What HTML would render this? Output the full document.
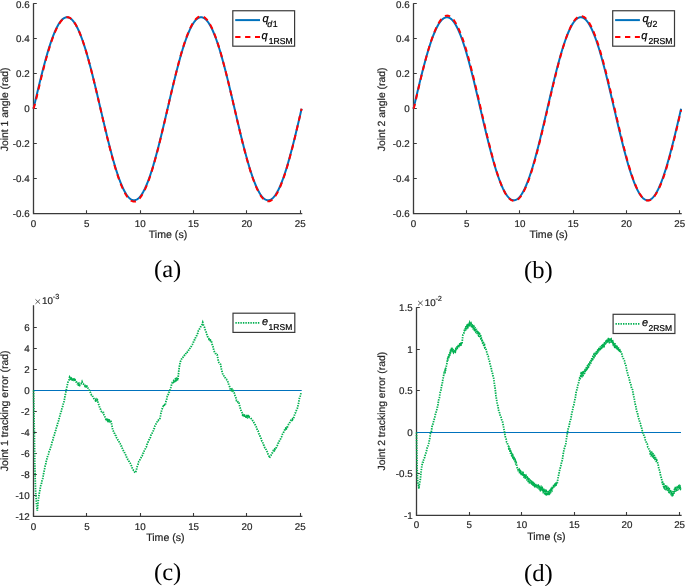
<!DOCTYPE html>
<html><head><meta charset="utf-8"><style>
html,body{margin:0;padding:0;background:#fff;overflow:hidden;}
body{width:685px;height:586px;font-family:"Liberation Sans",sans-serif;}
svg{display:block;text-rendering:geometricPrecision;will-change:transform;}
</style></head><body>
<svg width="685" height="586" viewBox="0 0 685 586" font-family="Liberation Sans, sans-serif" fill="#262626"><style>text{stroke:#262626;stroke-width:0.2px;}</style>
<rect width="685" height="586" fill="#fff"/>
<path d="M33.5 3.9V213.6H301.62" fill="none" stroke="#3a3a3a" stroke-width="1.3" stroke-linecap="square"/>
<path d="M33.5 213.5h3.3M33.5 178.5h3.3M33.5 143.5h3.3M33.5 108.5h3.3M33.5 73.5h3.3M33.5 38.5h3.3M33.5 3.5h3.3M33.5 213.6v-3.3M86.5 213.6v-3.3M140.5 213.6v-3.3M193.5 213.6v-3.3M246.5 213.6v-3.3M300.5 213.6v-3.3" fill="none" stroke="#3a3a3a" stroke-width="1.1"/>
<text x="29.6" y="217.2" text-anchor="end" font-size="9.8">-0.6</text>
<text x="29.6" y="182.25" text-anchor="end" font-size="9.8">-0.4</text>
<text x="29.6" y="147.3" text-anchor="end" font-size="9.8">-0.2</text>
<text x="29.6" y="112.35" text-anchor="end" font-size="9.8">0</text>
<text x="29.6" y="77.4" text-anchor="end" font-size="9.8">0.2</text>
<text x="29.6" y="42.45" text-anchor="end" font-size="9.8">0.4</text>
<text x="29.6" y="7.5" text-anchor="end" font-size="9.8">0.6</text>
<text x="33.5" y="226.9" text-anchor="middle" font-size="9.8">0</text>
<text x="86.84" y="226.9" text-anchor="middle" font-size="9.8">5</text>
<text x="140.18" y="226.9" text-anchor="middle" font-size="9.8">10</text>
<text x="193.52" y="226.9" text-anchor="middle" font-size="9.8">15</text>
<text x="246.86" y="226.9" text-anchor="middle" font-size="9.8">20</text>
<text x="300.2" y="226.9" text-anchor="middle" font-size="9.8">25</text>
<text x="168" y="237.8" text-anchor="middle" font-size="10.6">Time (s)</text>
<text transform="translate(7.5 109.35) rotate(-90)" text-anchor="middle" font-size="10.4">Joint 1 angle (rad)</text>
<path d="M33.5 108.75 34.04 106.45 34.57 104.15 35.11 101.86 35.64 99.57 36.18 97.28 36.72 95 37.25 92.74 37.79 90.48 38.33 88.23 38.86 86 39.4 83.78 39.93 81.57 40.47 79.38 41.01 77.22 41.54 75.07 42.08 72.94 42.62 70.84 43.15 68.75 43.69 66.7 44.22 64.67 44.76 62.67 45.3 60.7 45.83 58.76 46.37 56.85 46.91 54.97 47.44 53.13 47.98 51.32 48.51 49.55 49.05 47.81 49.59 46.11 50.12 44.46 50.66 42.84 51.2 41.27 51.73 39.74 52.27 38.25 52.8 36.81 53.34 35.41 53.88 34.06 54.41 32.75 54.95 31.49 55.49 30.29 56.02 29.13 56.56 28.02 57.09 26.96 57.63 25.96 58.17 25.01 58.7 24.11 59.24 23.26 59.78 22.47 60.31 21.73 60.85 21.05 61.38 20.42 61.92 19.85 62.46 19.33 62.99 18.87 63.53 18.47 64.07 18.12 64.6 17.84 65.14 17.6 65.67 17.43 66.21 17.32 66.75 17.26 67.28 17.26 67.82 17.32 68.36 17.43 68.89 17.6 69.43 17.84 69.96 18.12 70.5 18.47 71.04 18.87 71.57 19.33 72.11 19.85 72.64 20.42 73.18 21.05 73.72 21.73 74.25 22.47 74.79 23.26 75.33 24.11 75.86 25.01 76.4 25.96 76.93 26.96 77.47 28.02 78.01 29.13 78.54 30.29 79.08 31.49 79.62 32.75 80.15 34.06 80.69 35.41 81.22 36.81 81.76 38.25 82.3 39.74 82.83 41.27 83.37 42.84 83.91 44.46 84.44 46.11 84.98 47.81 85.51 49.55 86.05 51.32 86.59 53.13 87.12 54.97 87.66 56.85 88.2 58.76 88.73 60.7 89.27 62.67 89.8 64.67 90.34 66.7 90.88 68.75 91.41 70.84 91.95 72.94 92.49 75.07 93.02 77.22 93.56 79.38 94.09 81.57 94.63 83.78 95.17 86 95.7 88.23 96.24 90.48 96.78 92.74 97.31 95 97.85 97.28 98.38 99.57 98.92 101.86 99.46 104.15 99.99 106.45 100.53 108.75 101.07 111.05 101.6 113.35 102.14 115.64 102.67 117.93 103.21 120.22 103.75 122.5 104.28 124.76 104.82 127.02 105.36 129.27 105.89 131.5 106.43 133.72 106.96 135.93 107.5 138.12 108.04 140.28 108.57 142.43 109.11 144.56 109.64 146.66 110.18 148.75 110.72 150.8 111.25 152.83 111.79 154.83 112.33 156.8 112.86 158.74 113.4 160.65 113.93 162.53 114.47 164.37 115.01 166.18 115.54 167.95 116.08 169.69 116.62 171.39 117.15 173.04 117.69 174.66 118.22 176.23 118.76 177.76 119.3 179.25 119.83 180.69 120.37 182.09 120.91 183.44 121.44 184.75 121.98 186.01 122.51 187.21 123.05 188.37 123.59 189.48 124.12 190.54 124.66 191.54 125.2 192.49 125.73 193.39 126.27 194.24 126.8 195.03 127.34 195.77 127.88 196.45 128.41 197.08 128.95 197.65 129.49 198.17 130.02 198.63 130.56 199.03 131.09 199.38 131.63 199.66 132.17 199.9 132.7 200.07 133.24 200.18 133.78 200.24 134.31 200.24 134.85 200.18 135.38 200.07 135.92 199.9 136.46 199.66 136.99 199.38 137.53 199.03 138.07 198.63 138.6 198.17 139.14 197.65 139.67 197.08 140.21 196.45 140.75 195.77 141.28 195.03 141.82 194.24 142.36 193.39 142.89 192.49 143.43 191.54 143.96 190.54 144.5 189.48 145.04 188.37 145.57 187.21 146.11 186.01 146.64 184.75 147.18 183.44 147.72 182.09 148.25 180.69 148.79 179.25 149.33 177.76 149.86 176.23 150.4 174.66 150.93 173.04 151.47 171.39 152.01 169.69 152.54 167.95 153.08 166.18 153.62 164.37 154.15 162.53 154.69 160.65 155.22 158.74 155.76 156.8 156.3 154.83 156.83 152.83 157.37 150.8 157.91 148.75 158.44 146.66 158.98 144.56 159.51 142.43 160.05 140.28 160.59 138.12 161.12 135.93 161.66 133.72 162.2 131.5 162.73 129.27 163.27 127.02 163.8 124.76 164.34 122.5 164.88 120.22 165.41 117.93 165.95 115.64 166.49 113.35 167.02 111.05 167.56 108.75 168.09 106.45 168.63 104.15 169.17 101.86 169.7 99.57 170.24 97.28 170.78 95 171.31 92.74 171.85 90.48 172.38 88.23 172.92 86 173.46 83.78 173.99 81.57 174.53 79.38 175.07 77.22 175.6 75.07 176.14 72.94 176.67 70.84 177.21 68.75 177.75 66.7 178.28 64.67 178.82 62.67 179.36 60.7 179.89 58.76 180.43 56.85 180.96 54.97 181.5 53.13 182.04 51.32 182.57 49.55 183.11 47.81 183.65 46.11 184.18 44.46 184.72 42.84 185.25 41.27 185.79 39.74 186.33 38.25 186.86 36.81 187.4 35.41 187.93 34.06 188.47 32.75 189.01 31.49 189.54 30.29 190.08 29.13 190.62 28.02 191.15 26.96 191.69 25.96 192.22 25.01 192.76 24.11 193.3 23.26 193.83 22.47 194.37 21.73 194.91 21.05 195.44 20.42 195.98 19.85 196.51 19.33 197.05 18.87 197.59 18.47 198.12 18.12 198.66 17.84 199.2 17.6 199.73 17.43 200.27 17.32 200.8 17.26 201.34 17.26 201.88 17.32 202.41 17.43 202.95 17.6 203.49 17.84 204.02 18.12 204.56 18.47 205.09 18.87 205.63 19.33 206.17 19.85 206.7 20.42 207.24 21.05 207.78 21.73 208.31 22.47 208.85 23.26 209.38 24.11 209.92 25.01 210.46 25.96 210.99 26.96 211.53 28.02 212.07 29.13 212.6 30.29 213.14 31.49 213.67 32.75 214.21 34.06 214.75 35.41 215.28 36.81 215.82 38.25 216.36 39.74 216.89 41.27 217.43 42.84 217.96 44.46 218.5 46.11 219.04 47.81 219.57 49.55 220.11 51.32 220.65 53.13 221.18 54.97 221.72 56.85 222.25 58.76 222.79 60.7 223.33 62.67 223.86 64.67 224.4 66.7 224.93 68.75 225.47 70.84 226.01 72.94 226.54 75.07 227.08 77.22 227.62 79.38 228.15 81.57 228.69 83.78 229.22 86 229.76 88.23 230.3 90.48 230.83 92.74 231.37 95 231.91 97.28 232.44 99.57 232.98 101.86 233.51 104.15 234.05 106.45 234.59 108.75 235.12 111.05 235.66 113.35 236.2 115.64 236.73 117.93 237.27 120.22 237.8 122.5 238.34 124.76 238.88 127.02 239.41 129.27 239.95 131.5 240.49 133.72 241.02 135.93 241.56 138.12 242.09 140.28 242.63 142.43 243.17 144.56 243.7 146.66 244.24 148.75 244.78 150.8 245.31 152.83 245.85 154.83 246.38 156.8 246.92 158.74 247.46 160.65 247.99 162.53 248.53 164.37 249.07 166.18 249.6 167.95 250.14 169.69 250.67 171.39 251.21 173.04 251.75 174.66 252.28 176.23 252.82 177.76 253.36 179.25 253.89 180.69 254.43 182.09 254.96 183.44 255.5 184.75 256.04 186.01 256.57 187.21 257.11 188.37 257.65 189.48 258.18 190.54 258.72 191.54 259.25 192.49 259.79 193.39 260.33 194.24 260.86 195.03 261.4 195.77 261.93 196.45 262.47 197.08 263.01 197.65 263.54 198.17 264.08 198.63 264.62 199.03 265.15 199.38 265.69 199.66 266.22 199.9 266.76 200.07 267.3 200.18 267.83 200.24 268.37 200.24 268.91 200.18 269.44 200.07 269.98 199.9 270.51 199.66 271.05 199.38 271.59 199.03 272.12 198.63 272.66 198.17 273.2 197.65 273.73 197.08 274.27 196.45 274.8 195.77 275.34 195.03 275.88 194.24 276.41 193.39 276.95 192.49 277.49 191.54 278.02 190.54 278.56 189.48 279.09 188.37 279.63 187.21 280.17 186.01 280.7 184.75 281.24 183.44 281.78 182.09 282.31 180.69 282.85 179.25 283.38 177.76 283.92 176.23 284.46 174.66 284.99 173.04 285.53 171.39 286.07 169.69 286.6 167.95 287.14 166.18 287.67 164.37 288.21 162.53 288.75 160.65 289.28 158.74 289.82 156.8 290.36 154.83 290.89 152.83 291.43 150.8 291.96 148.75 292.5 146.66 293.04 144.56 293.57 142.43 294.11 140.28 294.65 138.12 295.18 135.93 295.72 133.72 296.25 131.5 296.79 129.27 297.33 127.02 297.86 124.76 298.4 122.5 298.93 120.22 299.47 117.93 300.01 115.64 300.54 113.35 301.08 111.05 301.62 108.75" fill="none" stroke="#0072BD" stroke-width="2" stroke-linejoin="round"/>
<path d="M33.5 108.75 34.04 106.89 34.57 105.12 35.11 103.28 35.64 101.26 36.18 99.1 36.72 96.93 37.25 94.73 37.79 92.4 38.33 90.06 38.86 87.76 39.4 85.48 39.93 83.22 40.47 80.99 41.01 78.79 41.54 76.61 42.08 74.44 42.62 72.3 43.15 70.18 43.69 68.08 44.22 66.01 44.76 63.96 45.3 61.95 45.83 59.97 46.37 58.02 46.91 56.11 47.44 54.23 47.98 52.4 48.51 50.6 49.05 48.84 49.59 47.12 50.12 45.44 50.66 43.79 51.2 42.19 51.73 40.62 52.27 39.11 52.8 37.63 53.34 36.2 53.88 34.82 54.41 33.49 54.95 32.2 55.49 30.96 56.02 29.78 56.56 28.64 57.09 27.55 57.63 26.52 58.17 25.53 58.7 24.6 59.24 23.72 59.78 22.9 60.31 22.13 60.85 21.42 61.38 20.76 61.92 20.15 62.46 19.61 62.99 19.12 63.53 18.68 64.07 18.31 64.6 17.97 65.14 17.7 65.67 17.48 66.21 17.32 66.75 17.22 67.28 17.17 67.82 17.2 68.36 17.29 68.89 17.43 69.43 17.64 69.96 17.92 70.5 18.27 71.04 18.68 71.57 19.15 72.11 19.67 72.64 20.24 73.18 20.87 73.72 21.56 74.25 22.3 74.79 23.1 75.33 23.95 75.86 24.86 76.4 25.83 76.93 26.84 77.47 27.91 78.01 29.03 78.54 30.19 79.08 31.4 79.62 32.66 80.15 33.97 80.69 35.31 81.22 36.69 81.76 38.12 82.3 39.61 82.83 41.16 83.37 42.74 83.91 44.37 84.44 46.04 84.98 47.74 85.51 49.48 86.05 51.25 86.59 53.06 87.12 54.91 87.66 56.8 88.2 58.72 88.73 60.67 89.27 62.67 89.8 64.69 90.34 66.74 90.88 68.81 91.41 70.91 91.95 73.03 92.49 75.17 93.02 77.33 93.56 79.52 94.09 81.72 94.63 83.94 95.17 86.16 95.7 88.4 96.24 90.64 96.78 92.9 97.31 95.17 97.85 97.48 98.38 99.79 98.92 102.11 99.46 104.43 99.99 106.75 100.53 109.08 101.07 111.39 101.6 113.7 102.14 116 102.67 118.3 103.21 120.59 103.75 122.89 104.28 125.18 104.82 127.47 105.36 129.74 105.89 132 106.43 134.22 106.96 136.43 107.5 138.61 108.04 140.79 108.57 142.94 109.11 145.07 109.64 147.17 110.18 149.26 110.72 151.32 111.25 153.37 111.79 155.41 112.33 157.43 112.86 159.41 113.4 161.34 113.93 163.23 114.47 165.1 115.01 166.92 115.54 168.71 116.08 170.46 116.62 172.17 117.15 173.84 117.69 175.47 118.22 177.06 118.76 178.61 119.3 180.12 119.83 181.58 120.37 182.99 120.91 184.36 121.44 185.69 121.98 186.96 122.51 188.19 123.05 189.36 123.59 190.49 124.12 191.56 124.66 192.59 125.2 193.56 125.73 194.48 126.27 195.34 126.8 196.15 127.34 196.9 127.88 197.6 128.41 198.25 128.95 198.84 129.49 199.37 130.02 199.85 130.56 200.26 131.09 200.63 131.63 200.93 132.17 201.18 132.7 201.37 133.24 201.5 133.78 201.58 134.31 201.59 134.85 201.55 135.38 201.44 135.92 201.24 136.46 200.98 136.99 200.66 137.53 200.29 138.07 199.86 138.6 199.37 139.14 198.83 139.67 198.24 140.21 197.6 140.75 196.9 141.28 196.14 141.82 195.33 142.36 194.47 142.89 193.55 143.43 192.58 143.96 191.56 144.5 190.48 145.04 189.36 145.57 188.18 146.11 186.95 146.64 185.67 147.18 184.34 147.72 182.97 148.25 181.55 148.79 180.08 149.33 178.57 149.86 177.03 150.4 175.43 150.93 173.8 151.47 172.13 152.01 170.41 152.54 168.66 153.08 166.86 153.62 165.03 154.15 163.16 154.69 161.26 155.22 159.33 155.76 157.37 156.3 155.38 156.83 153.36 157.37 151.32 157.91 149.25 158.44 147.16 158.98 145.05 159.51 142.91 160.05 140.75 160.59 138.53 161.12 136.29 161.66 134.06 162.2 131.81 162.73 129.55 163.27 127.3 163.8 125.03 164.34 122.76 164.88 120.47 165.41 118.16 165.95 115.84 166.49 113.5 167.02 111.17 167.56 108.84 168.09 106.52 168.63 104.2 169.17 101.89 169.7 99.58 170.24 97.27 170.78 94.96 171.31 92.66 171.85 90.37 172.38 88.09 172.92 85.85 173.46 83.63 173.99 81.42 174.53 79.22 175.07 77.05 175.6 74.9 176.14 72.77 176.67 70.66 177.21 68.58 177.75 66.52 178.28 64.42 178.82 62.35 179.36 60.3 179.89 58.31 180.43 56.38 180.96 54.47 181.5 52.61 182.04 50.79 182.57 49.01 183.11 47.26 183.65 45.56 184.18 43.89 184.72 42.26 185.25 40.68 185.79 39.13 186.33 37.63 186.86 36.18 187.4 34.77 187.93 33.41 188.47 32.09 189.01 30.82 189.54 29.6 190.08 28.43 190.62 27.31 191.15 26.24 191.69 25.22 192.22 24.25 192.76 23.33 193.3 22.46 193.83 21.65 194.37 20.9 194.91 20.2 195.44 19.55 195.98 18.96 196.51 18.42 197.05 17.94 197.59 17.52 198.12 17.15 198.66 16.85 199.2 16.6 199.73 16.41 200.27 16.28 200.8 16.2 201.34 16.18 201.88 16.22 202.41 16.32 202.95 16.5 203.49 16.75 204.02 17.06 204.56 17.43 205.09 17.86 205.63 18.35 206.17 18.89 206.7 19.49 207.24 20.14 207.78 20.85 208.31 21.61 208.85 22.41 209.38 23.27 209.92 24.17 210.46 25.13 210.99 26.14 211.53 27.22 212.07 28.36 212.6 29.55 213.14 30.79 213.67 32.08 214.21 33.42 214.75 34.79 215.28 36.2 215.82 37.65 216.36 39.14 216.89 40.68 217.43 42.28 217.96 43.94 218.5 45.64 219.04 47.36 219.57 49.11 220.11 50.89 220.65 52.71 221.18 54.6 221.72 56.52 222.25 58.47 222.79 60.43 223.33 62.42 223.86 64.43 224.4 66.48 224.93 68.55 225.47 70.64 226.01 72.76 226.54 74.89 227.08 77.05 227.62 79.24 228.15 81.45 228.69 83.68 229.22 85.93 229.76 88.19 230.3 90.46 230.83 92.73 231.37 95 231.91 97.28 232.44 99.57 232.98 101.86 233.51 104.17 234.05 106.49 234.59 108.82 235.12 111.15 235.66 113.47 236.2 115.79 236.73 118.1 237.27 120.4 237.8 122.68 238.34 124.96 238.88 127.24 239.41 129.52 239.95 131.79 240.49 134.04 241.02 136.27 241.56 138.48 242.09 140.67 242.63 142.84 243.17 144.97 243.7 147.08 244.24 149.17 244.78 151.23 245.31 153.26 245.85 155.26 246.38 157.24 246.92 159.18 247.46 161.09 247.99 162.97 248.53 164.82 249.07 166.63 249.6 168.4 250.14 170.14 250.67 171.85 251.21 173.51 251.75 175.14 252.28 176.72 252.82 178.27 253.36 179.77 253.89 181.24 254.43 182.65 254.96 184.02 255.5 185.34 256.04 186.62 256.57 187.85 257.11 189.02 257.65 190.15 258.18 191.23 258.72 192.25 259.25 193.23 259.79 194.15 260.33 195.02 260.86 195.83 261.4 196.59 261.93 197.3 262.47 197.95 263.01 198.54 263.54 199.08 264.08 199.56 264.62 199.98 265.15 200.34 265.69 200.65 266.22 200.9 266.76 201.09 267.3 201.22 267.83 201.3 268.37 201.32 268.91 201.28 269.44 201.19 269.98 201 270.51 200.75 271.05 200.45 271.59 200.09 272.12 199.67 272.66 199.2 273.2 198.66 273.73 198.08 274.27 197.45 274.8 196.76 275.34 196.02 275.88 195.21 276.41 194.34 276.95 193.42 277.49 192.45 278.02 191.42 278.56 190.35 279.09 189.22 279.63 188.05 280.17 186.82 280.7 185.55 281.24 184.22 281.78 182.85 282.31 181.44 282.85 179.98 283.38 178.47 283.92 176.92 284.46 175.32 284.99 173.69 285.53 172.03 286.07 170.32 286.6 168.58 287.14 166.8 287.67 164.98 288.21 163.12 288.75 161.22 289.28 159.29 289.82 157.33 290.36 155.34 290.89 153.33 291.43 151.29 291.96 149.24 292.5 147.15 293.04 145.04 293.57 142.9 294.11 140.72 294.65 138.52 295.18 136.31 295.72 134.09 296.25 131.85 296.79 129.59 297.33 127.32 297.86 125.03 298.4 122.72 298.93 120.4 299.47 118.07 300.01 115.74 300.54 113.42 301.08 111.1 301.62 108.8" fill="none" stroke="#FF0000" stroke-width="2" stroke-dasharray="5.3 4.6"/>
<rect x="232.8" y="10.75" width="61.8" height="35.45" fill="#fff" stroke="#3a3a3a" stroke-width="1.2"/>
<path d="M235.2 20.1h24.8" stroke="#0072BD" stroke-width="2"/>
<path d="M235.2 37h24.8" stroke="#FF0000" stroke-width="2" stroke-dasharray="5.3 4.6"/>
<text x="262.6" y="22.3" font-size="11" font-style="italic" fill="#000" style="stroke:#000">q</text>
<text x="267.2" y="27.3" font-size="8.8" fill="#000" style="stroke:#000"><tspan font-style="italic">d</tspan><tspan dx="0.6">1</tspan></text>
<text x="261.4" y="39.4" font-size="11" font-style="italic" fill="#000" style="stroke:#000">q</text>
<text x="268.7" y="43.6" font-size="8.6" fill="#000" style="stroke:#000">1RSM</text>
<path d="M413.5 3.9V213.6H681.11" fill="none" stroke="#3a3a3a" stroke-width="1.3" stroke-linecap="square"/>
<path d="M413.5 213.5h3.3M413.5 178.5h3.3M413.5 143.5h3.3M413.5 108.5h3.3M413.5 73.5h3.3M413.5 38.5h3.3M413.5 3.5h3.3M413.5 213.6v-3.3M466.5 213.6v-3.3M519.5 213.6v-3.3M573.5 213.6v-3.3M626.5 213.6v-3.3M679.5 213.6v-3.3" fill="none" stroke="#3a3a3a" stroke-width="1.1"/>
<text x="409.6" y="217.2" text-anchor="end" font-size="9.8">-0.6</text>
<text x="409.6" y="182.25" text-anchor="end" font-size="9.8">-0.4</text>
<text x="409.6" y="147.3" text-anchor="end" font-size="9.8">-0.2</text>
<text x="409.6" y="112.35" text-anchor="end" font-size="9.8">0</text>
<text x="409.6" y="77.4" text-anchor="end" font-size="9.8">0.2</text>
<text x="409.6" y="42.45" text-anchor="end" font-size="9.8">0.4</text>
<text x="409.6" y="7.5" text-anchor="end" font-size="9.8">0.6</text>
<text x="413.5" y="226.9" text-anchor="middle" font-size="9.8">0</text>
<text x="466.74" y="226.9" text-anchor="middle" font-size="9.8">5</text>
<text x="519.98" y="226.9" text-anchor="middle" font-size="9.8">10</text>
<text x="573.22" y="226.9" text-anchor="middle" font-size="9.8">15</text>
<text x="626.46" y="226.9" text-anchor="middle" font-size="9.8">20</text>
<text x="679.7" y="226.9" text-anchor="middle" font-size="9.8">25</text>
<text x="548.65" y="237.8" text-anchor="middle" font-size="10.6">Time (s)</text>
<text transform="translate(385.4 109.35) rotate(-90)" text-anchor="middle" font-size="10.4">Joint 2 angle (rad)</text>
<path d="M413.5 108.75 414.04 106.45 414.57 104.15 415.11 101.86 415.64 99.57 416.18 97.28 416.71 95 417.25 92.74 417.78 90.48 418.32 88.23 418.85 86 419.39 83.78 419.92 81.57 420.46 79.38 420.99 77.22 421.53 75.07 422.06 72.94 422.6 70.84 423.13 68.75 423.67 66.7 424.2 64.67 424.74 62.67 425.27 60.7 425.81 58.76 426.35 56.85 426.88 54.97 427.42 53.13 427.95 51.32 428.49 49.55 429.02 47.81 429.56 46.11 430.09 44.46 430.63 42.84 431.16 41.27 431.7 39.74 432.23 38.25 432.77 36.81 433.3 35.41 433.84 34.06 434.37 32.75 434.91 31.49 435.44 30.29 435.98 29.13 436.51 28.02 437.05 26.96 437.59 25.96 438.12 25.01 438.66 24.11 439.19 23.26 439.73 22.47 440.26 21.73 440.8 21.05 441.33 20.42 441.87 19.85 442.4 19.33 442.94 18.87 443.47 18.47 444.01 18.12 444.54 17.84 445.08 17.6 445.61 17.43 446.15 17.32 446.68 17.26 447.22 17.26 447.75 17.32 448.29 17.43 448.82 17.6 449.36 17.84 449.9 18.12 450.43 18.47 450.97 18.87 451.5 19.33 452.04 19.85 452.57 20.42 453.11 21.05 453.64 21.73 454.18 22.47 454.71 23.26 455.25 24.11 455.78 25.01 456.32 25.96 456.85 26.96 457.39 28.02 457.92 29.13 458.46 30.29 458.99 31.49 459.53 32.75 460.06 34.06 460.6 35.41 461.14 36.81 461.67 38.25 462.21 39.74 462.74 41.27 463.28 42.84 463.81 44.46 464.35 46.11 464.88 47.81 465.42 49.55 465.95 51.32 466.49 53.13 467.02 54.97 467.56 56.85 468.09 58.76 468.63 60.7 469.16 62.67 469.7 64.67 470.23 66.7 470.77 68.75 471.3 70.84 471.84 72.94 472.37 75.07 472.91 77.22 473.45 79.38 473.98 81.57 474.52 83.78 475.05 86 475.59 88.23 476.12 90.48 476.66 92.74 477.19 95 477.73 97.28 478.26 99.57 478.8 101.86 479.33 104.15 479.87 106.45 480.4 108.75 480.94 111.05 481.47 113.35 482.01 115.64 482.54 117.93 483.08 120.22 483.61 122.5 484.15 124.76 484.69 127.02 485.22 129.27 485.76 131.5 486.29 133.72 486.83 135.93 487.36 138.12 487.9 140.28 488.43 142.43 488.97 144.56 489.5 146.66 490.04 148.75 490.57 150.8 491.11 152.83 491.64 154.83 492.18 156.8 492.71 158.74 493.25 160.65 493.78 162.53 494.32 164.37 494.85 166.18 495.39 167.95 495.92 169.69 496.46 171.39 497 173.04 497.53 174.66 498.07 176.23 498.6 177.76 499.14 179.25 499.67 180.69 500.21 182.09 500.74 183.44 501.28 184.75 501.81 186.01 502.35 187.21 502.88 188.37 503.42 189.48 503.95 190.54 504.49 191.54 505.02 192.49 505.56 193.39 506.09 194.24 506.63 195.03 507.16 195.77 507.7 196.45 508.24 197.08 508.77 197.65 509.31 198.17 509.84 198.63 510.38 199.03 510.91 199.38 511.45 199.66 511.98 199.9 512.52 200.07 513.05 200.18 513.59 200.24 514.12 200.24 514.66 200.18 515.19 200.07 515.73 199.9 516.26 199.66 516.8 199.38 517.33 199.03 517.87 198.63 518.4 198.17 518.94 197.65 519.47 197.08 520.01 196.45 520.55 195.77 521.08 195.03 521.62 194.24 522.15 193.39 522.69 192.49 523.22 191.54 523.76 190.54 524.29 189.48 524.83 188.37 525.36 187.21 525.9 186.01 526.43 184.75 526.97 183.44 527.5 182.09 528.04 180.69 528.57 179.25 529.11 177.76 529.64 176.23 530.18 174.66 530.71 173.04 531.25 171.39 531.79 169.69 532.32 167.95 532.86 166.18 533.39 164.37 533.93 162.53 534.46 160.65 535 158.74 535.53 156.8 536.07 154.83 536.6 152.83 537.14 150.8 537.67 148.75 538.21 146.66 538.74 144.56 539.28 142.43 539.81 140.28 540.35 138.12 540.88 135.93 541.42 133.72 541.95 131.5 542.49 129.27 543.02 127.02 543.56 124.76 544.1 122.5 544.63 120.22 545.17 117.93 545.7 115.64 546.24 113.35 546.77 111.05 547.31 108.75 547.84 106.45 548.38 104.15 548.91 101.86 549.45 99.57 549.98 97.28 550.52 95 551.05 92.74 551.59 90.48 552.12 88.23 552.66 86 553.19 83.78 553.73 81.57 554.26 79.38 554.8 77.22 555.34 75.07 555.87 72.94 556.41 70.84 556.94 68.75 557.48 66.7 558.01 64.67 558.55 62.67 559.08 60.7 559.62 58.76 560.15 56.85 560.69 54.97 561.22 53.13 561.76 51.32 562.29 49.55 562.83 47.81 563.36 46.11 563.9 44.46 564.43 42.84 564.97 41.27 565.5 39.74 566.04 38.25 566.57 36.81 567.11 35.41 567.65 34.06 568.18 32.75 568.72 31.49 569.25 30.29 569.79 29.13 570.32 28.02 570.86 26.96 571.39 25.96 571.93 25.01 572.46 24.11 573 23.26 573.53 22.47 574.07 21.73 574.6 21.05 575.14 20.42 575.67 19.85 576.21 19.33 576.74 18.87 577.28 18.47 577.81 18.12 578.35 17.84 578.89 17.6 579.42 17.43 579.96 17.32 580.49 17.26 581.03 17.26 581.56 17.32 582.1 17.43 582.63 17.6 583.17 17.84 583.7 18.12 584.24 18.47 584.77 18.87 585.31 19.33 585.84 19.85 586.38 20.42 586.91 21.05 587.45 21.73 587.98 22.47 588.52 23.26 589.05 24.11 589.59 25.01 590.12 25.96 590.66 26.96 591.2 28.02 591.73 29.13 592.27 30.29 592.8 31.49 593.34 32.75 593.87 34.06 594.41 35.41 594.94 36.81 595.48 38.25 596.01 39.74 596.55 41.27 597.08 42.84 597.62 44.46 598.15 46.11 598.69 47.81 599.22 49.55 599.76 51.32 600.29 53.13 600.83 54.97 601.36 56.85 601.9 58.76 602.44 60.7 602.97 62.67 603.51 64.67 604.04 66.7 604.58 68.75 605.11 70.84 605.65 72.94 606.18 75.07 606.72 77.22 607.25 79.38 607.79 81.57 608.32 83.78 608.86 86 609.39 88.23 609.93 90.48 610.46 92.74 611 95 611.53 97.28 612.07 99.57 612.6 101.86 613.14 104.15 613.67 106.45 614.21 108.75 614.75 111.05 615.28 113.35 615.82 115.64 616.35 117.93 616.89 120.22 617.42 122.5 617.96 124.76 618.49 127.02 619.03 129.27 619.56 131.5 620.1 133.72 620.63 135.93 621.17 138.12 621.7 140.28 622.24 142.43 622.77 144.56 623.31 146.66 623.84 148.75 624.38 150.8 624.91 152.83 625.45 154.83 625.99 156.8 626.52 158.74 627.06 160.65 627.59 162.53 628.13 164.37 628.66 166.18 629.2 167.95 629.73 169.69 630.27 171.39 630.8 173.04 631.34 174.66 631.87 176.23 632.41 177.76 632.94 179.25 633.48 180.69 634.01 182.09 634.55 183.44 635.08 184.75 635.62 186.01 636.15 187.21 636.69 188.37 637.22 189.48 637.76 190.54 638.3 191.54 638.83 192.49 639.37 193.39 639.9 194.24 640.44 195.03 640.97 195.77 641.51 196.45 642.04 197.08 642.58 197.65 643.11 198.17 643.65 198.63 644.18 199.03 644.72 199.38 645.25 199.66 645.79 199.9 646.32 200.07 646.86 200.18 647.39 200.24 647.93 200.24 648.46 200.18 649 200.07 649.54 199.9 650.07 199.66 650.61 199.38 651.14 199.03 651.68 198.63 652.21 198.17 652.75 197.65 653.28 197.08 653.82 196.45 654.35 195.77 654.89 195.03 655.42 194.24 655.96 193.39 656.49 192.49 657.03 191.54 657.56 190.54 658.1 189.48 658.63 188.37 659.17 187.21 659.7 186.01 660.24 184.75 660.77 183.44 661.31 182.09 661.85 180.69 662.38 179.25 662.92 177.76 663.45 176.23 663.99 174.66 664.52 173.04 665.06 171.39 665.59 169.69 666.13 167.95 666.66 166.18 667.2 164.37 667.73 162.53 668.27 160.65 668.8 158.74 669.34 156.8 669.87 154.83 670.41 152.83 670.94 150.8 671.48 148.75 672.01 146.66 672.55 144.56 673.09 142.43 673.62 140.28 674.16 138.12 674.69 135.93 675.23 133.72 675.76 131.5 676.3 129.27 676.83 127.02 677.37 124.76 677.9 122.5 678.44 120.22 678.97 117.93 679.51 115.64 680.04 113.35 680.58 111.05 681.11 108.75" fill="none" stroke="#0072BD" stroke-width="2" stroke-linejoin="round"/>
<path d="M413.5 108.75 414.04 107.09 414.57 105.13 415.11 102.94 415.64 100.71 416.18 98.42 416.71 96.08 417.25 93.74 417.78 91.38 418.32 89.03 418.85 86.7 419.39 84.43 419.92 82.2 420.46 79.98 420.99 77.78 421.53 75.6 422.06 73.44 422.6 71.3 423.13 69.18 423.67 67.08 424.2 65.01 424.74 62.98 425.27 60.97 425.81 59 426.35 57.03 426.88 55.1 427.42 53.19 427.95 51.33 428.49 49.53 429.02 47.72 429.56 45.96 430.09 44.27 430.63 42.62 431.16 41.01 431.7 39.44 432.23 37.91 432.77 36.42 433.3 34.98 433.84 33.6 434.37 32.26 434.91 30.95 435.44 29.67 435.98 28.45 436.51 27.29 437.05 26.18 437.59 25.13 438.12 24.12 438.66 23.17 439.19 22.27 439.73 21.41 440.26 20.61 440.8 19.87 441.33 19.18 441.87 18.58 442.4 18.03 442.94 17.55 443.47 17.1 444.01 16.69 444.54 16.34 445.08 16.06 445.61 15.86 446.15 15.72 446.68 15.63 447.22 15.6 447.75 15.64 448.29 15.73 448.82 15.87 449.36 16.09 449.9 16.39 450.43 16.75 450.97 17.17 451.5 17.65 452.04 18.16 452.57 18.71 453.11 19.32 453.64 19.98 454.18 20.7 454.71 21.48 455.25 22.31 455.78 23.2 456.32 24.14 456.85 25.13 457.39 26.18 457.92 27.28 458.46 28.43 458.99 29.63 459.53 30.88 460.06 32.09 460.6 33.36 461.14 34.73 461.67 36.14 462.21 37.59 462.74 39.11 463.28 40.66 463.81 42.26 464.35 43.9 464.88 45.57 465.42 47.3 465.95 49.06 466.49 50.86 467.02 52.69 467.56 54.56 468.09 56.48 468.63 58.44 469.16 60.42 469.7 62.43 470.23 64.47 470.77 66.54 471.3 68.63 471.84 70.75 472.37 72.89 472.91 75.05 473.45 77.24 473.98 79.44 474.52 81.65 475.05 83.89 475.59 86.14 476.12 88.4 476.66 90.67 477.19 92.95 477.73 95.25 478.26 97.56 478.8 99.87 479.33 102.2 479.87 104.52 480.4 106.85 480.94 109.17 481.47 111.49 482.01 113.81 482.54 116.13 483.08 118.44 483.61 120.75 484.15 123.05 484.69 125.34 485.22 127.62 485.76 129.89 486.29 132.15 486.83 134.4 487.36 136.63 487.9 138.84 488.43 141.03 488.97 143.2 489.5 145.36 490.04 147.48 490.57 149.58 491.11 151.66 491.64 153.71 492.18 155.76 492.71 157.78 493.25 159.77 493.78 161.73 494.32 163.66 494.85 165.54 495.39 167.37 495.92 169.16 496.46 170.9 497 172.6 497.53 174.26 498.07 175.87 498.6 177.43 499.14 178.95 499.67 180.42 500.21 181.86 500.74 183.25 501.28 184.6 501.81 185.92 502.35 187.2 502.88 188.41 503.42 189.56 503.95 190.67 504.49 191.71 505.02 192.7 505.56 193.63 506.09 194.51 506.63 195.34 507.16 196.1 507.7 196.81 508.24 197.47 508.77 198.06 509.31 198.6 509.84 199.09 510.38 199.51 510.91 199.88 511.45 200.19 511.98 200.44 512.52 200.64 513.05 200.77 513.59 200.86 514.12 200.88 514.66 200.85 515.19 200.78 515.73 200.66 516.26 200.46 516.8 200.18 517.33 199.85 517.87 199.46 518.4 199.01 518.94 198.5 519.47 197.94 520.01 197.32 520.55 196.64 521.08 195.91 521.62 195.13 522.15 194.29 522.69 193.4 523.22 192.46 523.76 191.47 524.29 190.42 524.83 189.33 525.36 188.18 525.9 186.98 526.43 185.74 526.97 184.44 527.5 183.1 528.04 181.72 528.57 180.28 529.11 178.81 529.64 177.28 530.18 175.72 530.71 174.11 531.25 172.46 531.79 170.78 532.32 169.05 532.86 167.28 533.39 165.48 533.93 163.64 534.46 161.77 535 159.87 535.53 157.93 536.07 155.97 536.6 153.97 537.14 151.95 537.67 149.9 538.21 147.83 538.74 145.74 539.28 143.62 539.81 141.48 540.35 139.32 540.88 137.14 541.42 134.94 541.95 132.73 542.49 130.5 543.02 128.27 543.56 126.01 544.1 123.75 544.63 121.48 545.17 119.21 545.7 116.92 546.24 114.62 546.77 112.32 547.31 110.01 547.84 107.71 548.38 105.4 548.91 103.09 549.45 100.79 549.98 98.49 550.52 96.19 551.05 93.91 551.59 91.64 552.12 89.37 552.66 87.12 553.19 84.89 553.73 82.68 554.26 80.48 554.8 78.3 555.34 76.14 555.87 74 556.41 71.83 556.94 69.69 557.48 67.57 558.01 65.5 558.55 63.45 559.08 61.44 559.62 59.45 560.15 57.49 560.69 55.57 561.22 53.67 561.76 51.8 562.29 49.96 562.83 48.17 563.36 46.44 563.9 44.75 564.43 43.1 564.97 41.45 565.5 39.84 566.04 38.27 566.57 36.77 567.11 35.33 567.65 33.93 568.18 32.59 568.72 31.28 569.25 30.03 569.79 28.83 570.32 27.66 570.86 26.55 571.39 25.49 571.93 24.49 572.46 23.55 573 22.66 573.53 21.81 574.07 21.01 574.6 20.26 575.14 19.56 575.67 18.95 576.21 18.39 576.74 17.88 577.28 17.44 577.81 17.05 578.35 16.71 578.89 16.45 579.42 16.26 579.96 16.12 580.49 16.04 581.03 16.04 581.56 16.09 582.1 16.2 582.63 16.36 583.17 16.58 583.7 16.85 584.24 17.18 584.77 17.56 585.31 18 585.84 18.5 586.38 19.05 586.91 19.66 587.45 20.32 587.98 21.04 588.52 21.82 589.05 22.65 589.59 23.53 590.12 24.46 590.66 25.45 591.2 26.49 591.73 27.58 592.27 28.71 592.8 29.9 593.34 31.14 593.87 32.43 594.41 33.77 594.94 35.15 595.48 36.58 596.01 38.05 596.55 39.57 597.08 41.13 597.62 42.73 598.15 44.37 598.69 46.05 599.22 47.78 599.76 49.54 600.29 51.34 600.83 53.17 601.36 55.03 601.9 56.93 602.44 58.86 602.97 60.83 603.51 62.81 604.04 64.83 604.58 66.88 605.11 68.95 605.65 71.04 606.18 73.16 606.72 75.29 607.25 77.45 607.79 79.63 608.32 81.83 608.86 84.06 609.39 86.3 609.93 88.55 610.46 90.82 611 93.09 611.53 95.38 612.07 97.68 612.6 99.98 613.14 102.29 613.67 104.61 614.21 106.92 614.75 109.23 615.28 111.54 615.82 113.84 616.35 116.14 616.89 118.44 617.42 120.73 617.96 123.01 618.49 125.28 619.03 127.54 619.56 129.78 620.1 132.02 620.63 134.25 621.17 136.47 621.7 138.67 622.24 140.85 622.77 143 623.31 145.14 623.84 147.25 624.38 149.33 624.91 151.39 625.45 153.43 625.99 155.46 626.52 157.46 627.06 159.42 627.59 161.33 628.13 163.21 628.66 165.05 629.2 166.87 629.73 168.65 630.27 170.39 630.8 172.08 631.34 173.73 631.87 175.33 632.41 176.91 632.94 178.46 633.48 179.96 634.01 181.42 634.55 182.82 635.08 184.18 635.62 185.49 636.15 186.74 636.69 187.94 637.22 189.1 637.76 190.2 638.3 191.25 638.83 192.24 639.37 193.18 639.9 194.05 640.44 194.88 640.97 195.66 641.51 196.38 642.04 197.06 642.58 197.67 643.11 198.21 643.65 198.7 644.18 199.13 644.72 199.51 645.25 199.83 645.79 200.09 646.32 200.29 646.86 200.44 647.39 200.52 647.93 200.55 648.46 200.53 649 200.44 649.54 200.3 650.07 200.1 650.61 199.82 651.14 199.48 651.68 199.09 652.21 198.64 652.75 198.14 653.28 197.58 653.82 196.96 654.35 196.3 654.89 195.58 655.42 194.8 655.96 193.97 656.49 193.09 657.03 192.15 657.56 191.19 658.1 190.18 658.63 189.12 659.17 188 659.7 186.84 660.24 185.63 660.77 184.37 661.31 183.06 661.85 181.71 662.38 180.3 662.92 178.84 663.45 177.34 663.99 175.79 664.52 174.18 665.06 172.54 665.59 170.85 666.13 169.12 666.66 167.36 667.2 165.56 667.73 163.73 668.27 161.86 668.8 159.96 669.34 158.03 669.87 156.07 670.41 154.08 670.94 152.07 671.48 150.03 672.01 147.96 672.55 145.87 673.09 143.72 673.62 141.55 674.16 139.36 674.69 137.15 675.23 134.93 675.76 132.7 676.3 130.46 676.83 128.21 677.37 125.95 677.9 123.67 678.44 121.39 678.97 119.1 679.51 116.8 680.04 114.51 680.58 112.2 681.11 109.9" fill="none" stroke="#FF0000" stroke-width="2" stroke-dasharray="5.3 4.6"/>
<rect x="612.7" y="10.75" width="61.8" height="35.45" fill="#fff" stroke="#3a3a3a" stroke-width="1.2"/>
<path d="M615.1 20.1h24.8" stroke="#0072BD" stroke-width="2"/>
<path d="M615.1 37h24.8" stroke="#FF0000" stroke-width="2" stroke-dasharray="5.3 4.6"/>
<text x="642.5" y="22.3" font-size="11" font-style="italic" fill="#000" style="stroke:#000">q</text>
<text x="647.1" y="27.3" font-size="8.8" fill="#000" style="stroke:#000"><tspan font-style="italic">d</tspan><tspan dx="0.6">2</tspan></text>
<text x="641.3" y="39.4" font-size="11" font-style="italic" fill="#000" style="stroke:#000">q</text>
<text x="648.6" y="43.6" font-size="8.6" fill="#000" style="stroke:#000">2RSM</text>
<path d="M33.5 306V516.3H301.72" fill="none" stroke="#3a3a3a" stroke-width="1.3" stroke-linecap="square"/>
<path d="M33.5 516.5h3.3M33.5 495.5h3.3M33.5 474.5h3.3M33.5 453.5h3.3M33.5 432.5h3.3M33.5 411.5h3.3M33.5 390.5h3.3M33.5 369.5h3.3M33.5 348.5h3.3M33.5 327.5h3.3M33.5 516.3v-3.3M86.5 516.3v-3.3M140.5 516.3v-3.3M193.5 516.3v-3.3M246.5 516.3v-3.3M300.5 516.3v-3.3" fill="none" stroke="#3a3a3a" stroke-width="1.1"/>
<text x="29.6" y="519.9" text-anchor="end" font-size="9.8">-12</text>
<text x="29.6" y="498.87" text-anchor="end" font-size="9.8">-10</text>
<text x="29.6" y="477.84" text-anchor="end" font-size="9.8">-8</text>
<text x="29.6" y="456.81" text-anchor="end" font-size="9.8">-6</text>
<text x="29.6" y="435.78" text-anchor="end" font-size="9.8">-4</text>
<text x="29.6" y="414.75" text-anchor="end" font-size="9.8">-2</text>
<text x="29.6" y="393.72" text-anchor="end" font-size="9.8">0</text>
<text x="29.6" y="372.69" text-anchor="end" font-size="9.8">2</text>
<text x="29.6" y="351.66" text-anchor="end" font-size="9.8">4</text>
<text x="29.6" y="330.63" text-anchor="end" font-size="9.8">6</text>
<text x="33.5" y="529.6" text-anchor="middle" font-size="9.8">0</text>
<text x="86.86" y="529.6" text-anchor="middle" font-size="9.8">5</text>
<text x="140.22" y="529.6" text-anchor="middle" font-size="9.8">10</text>
<text x="193.58" y="529.6" text-anchor="middle" font-size="9.8">15</text>
<text x="246.94" y="529.6" text-anchor="middle" font-size="9.8">20</text>
<text x="300.3" y="529.6" text-anchor="middle" font-size="9.8">25</text>
<text x="165.4" y="541.2" text-anchor="middle" font-size="10.6">Time (s)</text>
<text transform="translate(7.6 410.8) rotate(-90)" text-anchor="middle" font-size="10.5">Joint 1 tracking error (rad)</text>
<path d="M35.5 299.4l4.6 4.4M40.1 299.4l-4.6 4.4" stroke="#262626" stroke-width="0.75" fill="none"/>
<text x="42.1" y="304" font-size="9.8">10</text>
<text x="52.8" y="299" font-size="7.4">-3</text>
<path d="M416.5 307.8V515.4H681" fill="none" stroke="#3a3a3a" stroke-width="1.3" stroke-linecap="square"/>
<path d="M416.5 515.5h3.3M416.5 473.5h3.3M416.5 432.5h3.3M416.5 390.5h3.3M416.5 349.5h3.3M416.5 307.5h3.3M416.5 515.4v-3.3M469.5 515.4v-3.3M521.5 515.4v-3.3M574.5 515.4v-3.3M626.5 515.4v-3.3M679.5 515.4v-3.3" fill="none" stroke="#3a3a3a" stroke-width="1.1"/>
<text x="412.6" y="519" text-anchor="end" font-size="9.8">-1</text>
<text x="412.6" y="477.48" text-anchor="end" font-size="9.8">-0.5</text>
<text x="412.6" y="435.96" text-anchor="end" font-size="9.8">0</text>
<text x="412.6" y="394.44" text-anchor="end" font-size="9.8">0.5</text>
<text x="412.6" y="352.92" text-anchor="end" font-size="9.8">1</text>
<text x="412.6" y="311.4" text-anchor="end" font-size="9.8">1.5</text>
<text x="416.5" y="528" text-anchor="middle" font-size="9.8">0</text>
<text x="469.12" y="528" text-anchor="middle" font-size="9.8">5</text>
<text x="521.74" y="528" text-anchor="middle" font-size="9.8">10</text>
<text x="574.36" y="528" text-anchor="middle" font-size="9.8">15</text>
<text x="626.98" y="528" text-anchor="middle" font-size="9.8">20</text>
<text x="679.6" y="528" text-anchor="middle" font-size="9.8">25</text>
<text x="546.4" y="540.3" text-anchor="middle" font-size="10.6">Time (s)</text>
<text transform="translate(385.3 411.15) rotate(-90)" text-anchor="middle" font-size="10.3">Joint 2 tracking error (rad)</text>
<path d="M418.1 300.9l4.6 4.4M422.7 300.9l-4.6 4.4" stroke="#262626" stroke-width="0.75" fill="none"/>
<text x="424.7" y="305.5" font-size="9.8">10</text>
<text x="435.4" y="300.5" font-size="7.4">-2</text>
<path d="M33.5 390.5H301.72" stroke="#0072BD" stroke-width="1.2"/>
<path d="M416.5 432.5H681" stroke="#0072BD" stroke-width="1.2"/>
<path d="M33.6 390.4 33.75 400.23 34 414.62 34.3 430.3 34.8 463.69 35.5 490.12 36.5 504.25 37.3 510.73 37.9 503.93 38.5 498.54 39.35 492.92 40.2 488.6 40.85 485.1 41.5 483.42 42.15 480 42.8 478.23 43.65 473.31 44.5 469.62 45.15 465.81 45.8 463.87 46.45 460.17 47.1 458.24 47.78 455.65 48.46 454.28 49.14 451.4 49.82 450.06 50.5 447.67 51.25 445.76 52 442.3 52.75 440.54 53.5 436.96 54.26 435.42 55.02 431.86 55.78 430.19 56.54 426.84 57.3 425.13 57.98 421.85 58.66 420.58 59.34 417.49 60.02 415.47 60.7 412.68 61.38 411.1 62.06 407.81 62.74 406.18 63.42 403.12 64.1 401.36 64.95 396.39 65.8 392.69 66.65 387.75 67.5 384.3 68.2 381.35 68.9 380.35 69.6 377.33 70.38 378.86 71.15 378.15 71.92 379.62 72.7 379.4 73.33 380.36 73.95 379.47 74.58 380.83 75.2 380.11 75.85 381.81 76.5 381.98 77.15 383.57 77.8 383.5 78.42 384.36 79.05 384.15 79.67 385.03 80.3 384.1 81.15 383.61 82 381.7 82.65 383.37 83.3 383.71 83.95 385.01 84.6 385.11 85.25 386.36 85.9 385.91 86.55 386.69 87.2 386.36 88.05 388.21 88.9 388.72 89.75 391.69 90.6 392.71 91.45 394.91 92.3 395.2 92.92 397.14 93.55 397.79 94.17 399.43 94.8 399.96 95.45 400.31 96.1 399.78 96.75 400.51 97.4 399.91 98.25 403.24 99.1 405.56 99.95 408.47 100.8 409.72 101.45 411.5 102.1 411.3 102.75 412.59 103.4 412.53 104.03 415.03 104.65 415.89 105.28 418.39 105.9 419.28 106.6 420.45 107.3 419.7 108 420.57 108.7 419.95 109.4 420.83 110.25 420.74 111.1 421.99 111.95 425.33 112.8 430.38 113.42 431.15 114.05 432.87 114.67 433.43 115.3 435.23 115.98 435.86 116.66 437.88 117.34 438.49 118.02 440.24 118.7 440.66 119.4 442.85 120.1 443.51 120.8 445.66 121.5 446.13 122.2 448.13 122.88 449.25 123.56 451.24 124.24 451.62 124.92 453.84 125.6 454.66 126.32 456.78 127.05 457.48 127.78 459.42 128.5 460.23 129.35 462.35 130.2 463.19 130.85 465.14 131.5 465.85 132.15 467.92 132.8 468.57 133.45 470.17 134.1 470.38 134.75 472.19 135.4 472.77 136.25 470.51 137.1 466.77 137.95 464.66 138.8 461.57 139.48 461 140.16 459.01 140.84 458.09 141.52 456.18 142.2 455.62 142.88 453.41 143.56 452.91 144.24 450.82 144.92 449.94 145.6 447.87 146.28 447.12 146.96 444.52 147.64 443.37 148.32 441.24 149 440.07 149.68 438.13 150.36 437.49 151.04 435.1 151.72 434.47 152.4 432.65 153.05 431.71 153.7 429.07 154.35 428.31 155 425.81 155.62 425.01 156.25 423.29 156.88 422.78 157.5 420.75 158.15 420.64 158.8 419.38 159.45 419.37 160.1 418.08 161 412.96 161.85 409.66 162.7 407.42 163.32 406.15 163.95 406.69 164.57 404.98 165.2 405.33 165.9 401.59 166.6 399.9 167.3 396.27 168.03 395.25 168.75 392.53 169.47 391.76 170.2 389.23 170.93 387.33 171.67 384.25 172.4 382.23 173.15 381.35 173.9 381.4 174.65 380.24 175.4 380.51 176.03 379.63 176.65 380.1 177.28 378.87 177.9 379.66 178.8 370.85 179.6 365.15 180.45 361.65 181.3 359.63 181.98 358.16 182.66 357.98 183.34 356.66 184.02 356.5 184.7 354.83 185.4 354.68 186.1 352.95 186.8 353.09 187.5 351.56 188.2 351.24 188.88 349.43 189.56 349.27 190.24 347.38 190.92 347.13 191.6 345.59 192.28 344.82 192.96 342.57 193.64 341.92 194.32 339.86 195 339.56 195.68 336.95 196.36 336.44 197.04 334.26 197.72 333.26 198.4 330.77 199.05 330.17 199.7 328.5 200.35 327.72 201 325.83 201.85 324.82 202.7 322.45 203.55 325.44 204.4 326.98 205.25 329.8 206.1 332.02 206.72 334.08 207.35 335.45 207.97 337.89 208.6 338.47 209.25 339.59 209.9 339.49 210.55 340.55 211.2 340.43 212.05 343.99 212.9 346.27 213.75 350.1 214.6 352.41 215.25 353.54 215.9 353.67 216.55 354.75 217.2 354.81 218.05 359.51 218.9 362.6 219.75 363.91 220.6 364.39 221.45 369.15 222.3 372.69 222.93 374.67 223.55 374.95 224.18 376.83 224.8 376.98 225.6 378.76 226.4 379.17 227.2 380.86 228 382.09 228.8 384.92 229.6 386.6 230.4 389.84 231.15 389.54 231.9 390.43 232.65 389.87 233.4 390.75 234.2 392.68 235 395.72 235.75 397.16 236.5 400.57 237.27 400.53 238.03 402.22 238.8 402 239.65 406.1 240.5 408.86 241.2 411.18 241.9 412.29 242.6 415.04 243.38 414.43 244.15 415.85 244.92 415.28 245.7 416.57 246.35 415.84 247 416.54 247.65 416.1 248.3 416.76 248.95 416.58 249.6 417.39 250.35 417.51 251.1 418.56 251.85 418.98 252.6 420.44 253.38 421.24 254.15 423.13 254.92 424.03 255.7 426.28 256.48 427.3 257.25 429.99 258.02 430.75 258.8 433.58 259.57 434.53 260.35 437.35 261.12 438.64 261.9 441.19 262.65 442.06 263.4 444.61 264.15 445.7 264.9 448.08 265.67 448.56 266.45 450.8 267.23 451.9 268 454.09 268.75 455.13 269.5 457.84 270.27 456.09 271.03 455.24 271.8 453.28 272.6 452.68 273.4 450.39 274.17 450.46 274.93 449.32 275.7 449.39 276.47 446.98 277.23 445.66 278 443.34 278.77 442.75 279.53 440.32 280.3 439.58 281.07 437.37 281.83 436.48 282.6 434.02 283.37 433.18 284.13 430.6 284.9 429.55 285.67 428.24 286.43 428.68 287.2 427.41 287.95 426.22 288.7 424.02 289.47 423.53 290.23 421.07 291 420.23 291.77 419.2 292.53 419.64 293.3 418.95 294.1 416.72 294.9 413.4 295.65 412.52 296.4 410.47 297.2 408.85 298 405.52 298.75 402.51 299.5 397.94 300.25 396.07 301 393.1" fill="none" stroke="#00B050" stroke-width="1.8" stroke-dasharray="1.4 1.1"/>
<path d="M69.6 378.6 70.38 379.58 71.15 379 71.92 380.36 72.7 379.75 73.33 380.77 73.95 380.32 74.58 381.53 75.2 381.2" fill="none" stroke="#00B050" stroke-width="1.62" stroke-dasharray="1.4 1.1" stroke-dashoffset="1.2"/>
<path d="M77.8 384.6 78.42 385.25 79.05 384.84 79.67 385.62 80.3 385.4" fill="none" stroke="#00B050" stroke-width="1.62" stroke-dasharray="1.4 1.1" stroke-dashoffset="2.4"/>
<path d="M84.6 386.3 85.25 387.08 85.9 386.56 86.55 387.36 87.2 387.2" fill="none" stroke="#00B050" stroke-width="1.62" stroke-dasharray="1.4 1.1" stroke-dashoffset="3.5999999999999996"/>
<path d="M94.8 400.8 95.45 401.08 96.1 400.38 96.75 400.92 97.4 400.8" fill="none" stroke="#00B050" stroke-width="1.62" stroke-dasharray="1.4 1.1" stroke-dashoffset="4.8"/>
<path d="M105.9 420.4 106.6 420.89 107.3 420.55 108 421.49 108.7 420.7 109.4 421.67 110.25 421.25 111.1 422.1" fill="none" stroke="#00B050" stroke-width="1.62" stroke-dasharray="1.4 1.1" stroke-dashoffset="6.0"/>
<path d="M172.4 382.7 173.15 382.74 173.9 381.41 174.65 381.7 175.4 380.12 176.03 380.74 176.65 379.76 177.28 380.31 177.9 379.8" fill="none" stroke="#00B050" stroke-width="1.62" stroke-dasharray="1.4 1.1" stroke-dashoffset="7.199999999999999"/>
<path d="M208.6 339.7 209.25 340.49 209.9 340.14 210.55 341.24 211.2 341.4" fill="none" stroke="#00B050" stroke-width="1.62" stroke-dasharray="1.4 1.1" stroke-dashoffset="8.4"/>
<path d="M230.4 390.2 231.15 390.6 231.9 390.3 232.65 391.4 233.4 391.3" fill="none" stroke="#00B050" stroke-width="1.62" stroke-dasharray="1.4 1.1" stroke-dashoffset="9.6"/>
<path d="M242.6 415.3 243.38 416.03 244.15 415.5 244.92 416.66 245.7 416.51 246.35 417.16 247 416.87 247.65 417.76 248.3 417.15 248.95 417.86 249.6 417.6" fill="none" stroke="#00B050" stroke-width="1.62" stroke-dasharray="1.4 1.1" stroke-dashoffset="10.799999999999999"/>
<path d="M273.4 451.4 274.17 451.14 274.93 449.89 275.7 449.8" fill="none" stroke="#00B050" stroke-width="1.62" stroke-dasharray="1.4 1.1" stroke-dashoffset="12.0"/>
<path d="M284.9 429.9 285.67 429.52 286.43 428.35 287.2 428.3" fill="none" stroke="#00B050" stroke-width="1.62" stroke-dasharray="1.4 1.1" stroke-dashoffset="13.2"/>
<path d="M291 420.6 291.77 420.73 292.53 419.69 293.3 419.9" fill="none" stroke="#00B050" stroke-width="1.62" stroke-dasharray="1.4 1.1" stroke-dashoffset="14.399999999999999"/>
<path d="M69.6 377.2 70.38 377.78 71.15 377.84 71.92 378.63 72.7 378.52 73.33 379.35 73.95 379.03 74.58 380.14 75.2 379.8" fill="none" stroke="#00B050" stroke-width="1.62" stroke-dasharray="1.4 1.1" stroke-dashoffset="15.6"/>
<path d="M77.8 383.2 78.42 383.85 79.05 383.12 79.67 384.09 80.3 384" fill="none" stroke="#00B050" stroke-width="1.62" stroke-dasharray="1.4 1.1" stroke-dashoffset="16.8"/>
<path d="M84.6 384.9 85.25 385.56 85.9 385.2 86.55 386.14 87.2 385.8" fill="none" stroke="#00B050" stroke-width="1.62" stroke-dasharray="1.4 1.1" stroke-dashoffset="18.0"/>
<path d="M94.8 399.4 95.45 399.88 96.1 398.88 96.75 399.79 97.4 399.4" fill="none" stroke="#00B050" stroke-width="1.62" stroke-dasharray="1.4 1.1" stroke-dashoffset="19.2"/>
<path d="M105.9 419 106.6 419.67 107.3 418.87 108 419.73 108.7 419.2 109.4 420.11 110.25 419.74 111.1 420.7" fill="none" stroke="#00B050" stroke-width="1.62" stroke-dasharray="1.4 1.1" stroke-dashoffset="20.4"/>
<path d="M172.4 381.3 173.15 380.95 173.9 380.18 174.65 380.01 175.4 378.75 176.03 379.29 176.65 378.38 177.28 379.11 177.9 378.4" fill="none" stroke="#00B050" stroke-width="1.62" stroke-dasharray="1.4 1.1" stroke-dashoffset="21.599999999999998"/>
<path d="M208.6 338.3 209.25 338.9 209.9 338.88 210.55 340.08 211.2 340" fill="none" stroke="#00B050" stroke-width="1.62" stroke-dasharray="1.4 1.1" stroke-dashoffset="22.8"/>
<path d="M230.4 388.8 231.15 389.29 231.9 388.86 232.65 390.19 233.4 389.9" fill="none" stroke="#00B050" stroke-width="1.62" stroke-dasharray="1.4 1.1" stroke-dashoffset="24.0"/>
<path d="M242.6 413.9 243.38 414.84 244.15 414.38 244.92 415.58 245.7 415.24 246.35 415.75 247 415.48 247.65 416.35 248.3 415.78 248.95 416.58 249.6 416.2" fill="none" stroke="#00B050" stroke-width="1.62" stroke-dasharray="1.4 1.1" stroke-dashoffset="25.2"/>
<path d="M273.4 450 274.17 449.7 274.93 448.77 275.7 448.4" fill="none" stroke="#00B050" stroke-width="1.62" stroke-dasharray="1.4 1.1" stroke-dashoffset="26.4"/>
<path d="M284.9 428.5 285.67 428.56 286.43 427.2 287.2 426.9" fill="none" stroke="#00B050" stroke-width="1.62" stroke-dasharray="1.4 1.1" stroke-dashoffset="27.599999999999998"/>
<path d="M291 419.2 291.77 419.19 292.53 418.46 293.3 418.5" fill="none" stroke="#00B050" stroke-width="1.62" stroke-dasharray="1.4 1.1" stroke-dashoffset="28.799999999999997"/>
<path d="M416.5 432.4 416.8 451.83 417.2 470.99 417.7 482.65 418.3 484.04 418.9 488.61 419.55 483.21 420.2 480.4 421.05 471.98 421.9 465.66 422.5 462.45 423.1 462.23 423.7 459.44 424.55 457.67 425.4 454.24 426.25 452.17 427.1 448.01 427.95 446.24 428.8 443.16 429.65 439.18 430.5 433.26 431.3 432.33 432.2 425.31 433.05 423.8 433.9 420.22 434.75 417.72 435.6 413.43 436.45 411.28 437.3 407.69 437.95 404.83 438.6 400.16 439.35 397.96 440.1 392.84 440.85 390.61 441.6 385.93 442.23 383.94 442.85 379.28 443.48 376.85 444.1 372.24 444.95 371.68 445.8 368.02 446.65 365.02 447.5 359.1 448.35 357.79 449.2 354.9 449.85 353.98 450.5 351.97 451.15 351.1 451.8 348.59 452.45 350.26 453.1 350.28 453.75 352.25 454.4 352.3 455.25 351.72 456.1 348.67 456.78 348.77 457.46 346.99 458.14 347.37 458.82 345.62 459.5 345.88 460.12 344.38 460.75 344.87 461.38 342.94 462 343.49 462.9 334.85 463.75 333.49 464.6 329.9 465.25 329.61 465.9 328.14 466.55 327.59 467.2 325.33 467.82 325.9 468.45 324.23 469.07 325.17 469.7 322.84 470.38 324.81 471.06 324.62 471.74 326.3 472.42 325.68 473.1 327.36 473.8 327.22 474.5 329.53 475.2 328.82 475.9 330.67 476.6 330.44 477.28 332.41 477.96 332.59 478.64 334.5 479.32 333.9 480 336.02 480.62 336.25 481.25 339.17 481.88 339.7 482.5 342.01 483.15 342.77 483.8 344.79 484.45 345.74 485.1 348.18 485.73 348.33 486.35 351.25 486.98 352.46 487.6 355.29 488.2 356.1 488.8 359.41 489.4 360.85 490.25 365.21 491.1 367.23 491.73 371.08 492.35 372.67 492.98 375.95 493.6 377.46 494.45 384.45 495.3 389.66 495.95 395.88 496.6 399.73 497.25 404.11 497.9 405.94 498.75 410.88 499.6 412.95 500.3 415.92 501 417.14 501.7 419.89 502.55 421.81 503.4 425.99 504.3 431.09 505.15 436.3 506 438.41 506.62 442.01 507.25 442.54 507.88 445.51 508.5 446.19 509.15 448.92 509.8 449.51 510.45 451.87 511.1 452.61 511.75 454.63 512.4 454.56 513.05 457.6 513.7 457.37 514.33 459.81 514.95 460.13 515.58 462.07 516.2 462.72 517.05 467.29 517.9 469.2 518.55 471.07 519.2 470.5 519.85 472.61 520.5 471.82 521.18 473.68 521.86 472.81 522.54 474.5 523.22 473.89 523.9 475.48 524.58 475.25 525.26 477.19 525.94 476.46 526.62 478.21 527.3 477.64 527.98 479.83 528.66 479.26 529.34 480.73 530.02 480.65 530.7 482.26 531.38 481.76 532.06 483.45 532.74 482.69 533.42 484.63 534.1 483.75 534.78 485.27 535.46 484.54 536.14 486.23 536.82 485.08 537.5 486.63 538.2 485.91 538.9 488.01 539.6 487.02 540.3 489.08 541 487.83 541.68 489.77 542.36 489.18 543.04 490.56 543.72 490 544.4 492.15 545.02 491.2 545.65 492.83 546.27 491.88 546.9 493.71 547.55 492.5 548.2 493.34 548.85 491.8 549.5 492.86 550.12 490.84 550.75 491.08 551.38 488.84 552 489.34 552.65 487.15 553.3 487.2 553.95 485.85 554.6 485.8 555.25 484.03 555.9 484.39 556.55 482.75 557.2 483.43 558.05 477.89 558.9 473.92 559.75 469.66 560.6 466.82 561.45 462.87 562.3 460.11 563.15 454.29 564 449.82 564.85 446.74 565.7 444.92 566.55 437.95 567.4 433.02 568.25 428.4 569.1 425.95 569.95 421.37 570.8 418.98 571.65 414.03 572.5 410.58 573.17 407.06 573.83 405.13 574.5 401.42 575.35 397.5 576.2 391.69 577.05 389.12 577.9 384.85 578.75 382.27 579.6 377.88 580.45 377.15 581.3 373.93 581.95 375.14 582.6 373.47 583.25 374.29 583.9 372.46 584.55 372.5 585.2 370.72 585.85 370.56 586.5 368.31 587.12 368.69 587.75 365.87 588.38 366.29 589 364.17 589.65 364.35 590.3 362.27 590.95 361.63 591.6 359.71 592.23 359.87 592.85 357.92 593.48 357.78 594.1 355.28 594.75 355.7 595.4 353.91 596.05 353.89 596.7 352.31 597.33 352.71 597.95 350.5 598.58 350.95 599.2 348.36 599.9 349.13 600.6 347.47 601.3 348.05 602 345.94 602.7 346.28 603.38 344.71 604.06 345.33 604.74 343.23 605.42 343.47 606.1 341.88 606.73 342.04 607.35 340.52 607.98 341.02 608.6 339.51 609.28 340.98 609.96 339.8 610.64 341.11 611.32 340.7 612 341.98 612.65 341.6 613.3 344.04 613.95 343.79 614.6 345.37 615.28 345.39 615.96 347.25 616.64 346.65 617.32 348.34 618 347.88 618.65 349.69 619.3 349.09 619.95 351.07 620.6 350.73 621.23 353.43 621.85 354 622.48 356.66 623.1 357.38 623.75 359.89 624.4 360.64 625.05 363.41 625.7 364.16 626.55 369.57 627.4 372.49 628.25 375.91 629.1 377.94 629.95 382.21 630.8 384.26 631.65 388.47 632.5 389.63 633.35 394.79 634.2 398.26 635 403.39 635.8 406.21 636.65 410.94 637.5 413.06 638.35 417.63 639.2 419.66 639.8 422.66 640.4 423.44 641 426.39 641.85 428.68 642.7 432.79 643.33 433.32 643.95 436.03 644.58 436.72 645.2 439.88 645.85 440.43 646.5 443.04 647.15 443.63 647.8 446.94 648.42 447.52 649.05 450.02 649.67 450.62 650.3 453.44 651 453.16 651.7 454.55 652.4 454.34 653.1 456.38 653.8 456.07 654.48 457.67 655.16 457.57 655.84 460.11 656.52 459.72 657.2 461.6 658.05 464.15 658.9 469.18 659.75 470.8 660.6 475.78 661.45 478.28 662.3 482.69 663.15 483.71 664 486.84 664.68 485.83 665.36 487.89 666.04 487.42 666.72 488.59 667.4 487.86 668.05 489.64 668.7 489.38 669.35 491.13 670 491 670.62 492.78 671.25 492.79 671.88 494.11 672.5 494.25 673.15 493.66 673.8 491.93 674.45 491.47 675.1 488.89 675.78 490.07 676.46 488.64 677.14 489.07 677.82 487.83 678.5 488.51 679.15 487.14 679.8 488.31 680.45 486.78 681.1 487" fill="none" stroke="#00B050" stroke-width="1.8" stroke-dasharray="1.4 1.1"/>
<path d="M444.1 374.3 444.95 373.07 445.8 370.1" fill="none" stroke="#00B050" stroke-width="1.62" stroke-dasharray="1.4 1.1" stroke-dashoffset="1.2"/>
<path d="M447.5 360.7 448.35 358.88 449.2 355.94 449.85 355.22 450.5 352.94 451.15 352.49 451.8 349.76 452.45 351.64 453.1 351.71 453.75 353.33 454.4 353.13 455.25 352.54 456.1 349.58 456.78 349.79 457.46 348.53 458.14 348.37 458.82 346.56 459.5 346.92 460.12 344.97 460.75 345.9 461.38 344.53 462 344.5" fill="none" stroke="#00B050" stroke-width="1.62" stroke-dasharray="1.4 1.1" stroke-dashoffset="2.4"/>
<path d="M464.6 331.7 465.25 331.5 465.9 328.97 466.55 329 467.2 326.84 467.82 327.51 468.45 325.26 469.07 326.01 469.7 324.55 470.38 326.03 471.06 326.03 471.74 327.58 472.42 326.73 473.1 328.63 473.8 328.41 474.5 330.31 475.2 329.97 475.9 332.24 476.6 332.04 477.28 333.56 477.96 333.93 478.64 335.91 479.32 335.63 480 337.42 480.62 337.72 481.25 340.3 481.88 340.61 482.5 343.07 483.15 343.61 483.8 345.98 484.45 346.89 485.1 348.7" fill="none" stroke="#00B050" stroke-width="1.62" stroke-dasharray="1.4 1.1" stroke-dashoffset="3.5999999999999996"/>
<path d="M508.5 448.1 509.15 449.98 509.8 450.56 510.45 453.19 511.1 453.59 511.75 455.98 512.4 456.12 513.05 458.48 513.7 458.87 514.33 460.73 514.95 461.39 515.58 463.77 516.2 464.3" fill="none" stroke="#00B050" stroke-width="1.62" stroke-dasharray="1.4 1.1" stroke-dashoffset="4.8"/>
<path d="M517.9 471.2 518.55 472.15 519.2 472.2 519.85 473.73 520.5 473.1 521.18 474.86 521.86 474.3 522.54 475.76 523.22 474.96 523.9 477.07 524.58 476.61 525.26 478.04 525.94 478.11 526.62 479.73 527.3 479.49 527.98 481.05 528.66 480.19 529.34 482.53 530.02 481.97 530.7 483.86 531.38 483.35 532.06 484.87 532.74 484.35 533.42 485.85 534.1 485.5 534.78 486.58 535.46 485.53 536.14 487.05 536.82 486.81 537.5 487.89 538.2 487.71 538.9 488.64 539.6 488.25 540.3 490.29 541 489.02 541.68 491.18 542.36 490.45 543.04 492.2 543.72 491.27 544.4 493.23 545.02 492.4 545.65 494.07 546.27 493.35 546.9 494.58 547.55 493.69 548.2 494.25 548.85 493.1 549.5 493.81 550.12 491.72 550.75 492.21 551.38 490.29 552 490.77 552.65 488.23 553.3 488.42 553.95 486.92 554.6 487.18 555.25 485.39 555.9 486.12 556.55 483.92 557.2 484" fill="none" stroke="#00B050" stroke-width="1.62" stroke-dasharray="1.4 1.1" stroke-dashoffset="6.0"/>
<path d="M579.6 379.5 580.45 378.11 581.3 375.4 581.95 376.46 582.6 374.5 583.25 375.25 583.9 373.9 584.55 373.53 585.2 371.3 585.85 371.87 586.5 369.74 587.12 369.63 587.75 367.26 588.38 367.71 589 365.42 589.65 365.13 590.3 363.34 590.95 363.18 591.6 360.66 592.23 361.16 592.85 359.12 593.48 358.8 594.1 357.06 594.75 356.75 595.4 355.07 596.05 355.04 596.7 353.53 597.33 353.38 597.95 351.67 598.58 352.07 599.2 350.05 599.9 350.34 600.6 348.57 601.3 348.75 602 347.29 602.7 347.74 603.38 345.53 604.06 346.35 604.74 344.14 605.42 344.98 606.1 343.2 606.73 343.32 607.35 341.76 607.98 342.34 608.6 340.35 609.28 342.27 609.96 341.03 610.64 343 611.32 341.79 612 343.47 612.65 342.89 613.3 345.04 613.95 344.6 614.6 347.01 615.28 346.33 615.96 347.99 616.64 347.79 617.32 349.54 618 349.01 618.65 350.79 619.3 350.44 619.95 352.26 620.6 352.2" fill="none" stroke="#00B050" stroke-width="1.62" stroke-dasharray="1.4 1.1" stroke-dashoffset="7.199999999999999"/>
<path d="M650.3 454.1 651 455.65 651.7 454.89 652.4 456.45 653.1 455.94 653.8 457.98 654.48 457.77 655.16 459.74 655.84 460.26 656.52 462.46 657.2 462.6" fill="none" stroke="#00B050" stroke-width="1.62" stroke-dasharray="1.4 1.1" stroke-dashoffset="8.4"/>
<path d="M662.3 483.1 663.15 485.8 664 487.2 664.68 488.64 665.36 488.09 666.04 489.58 666.72 489.22 667.4 490.27 668.05 489.97 668.7 491.87 669.35 491.02 670 492.98 670.62 492.98 671.25 494.63 671.88 494.34 672.5 496.67 673.15 494.31 673.8 494.06 674.45 491.64 675.1 491.14 675.78 489.74 676.46 490.48 677.14 489.21 677.82 489.81 678.5 488.73 679.15 489.17 679.8 487.86 680.45 489.18 681.1 488.2" fill="none" stroke="#00B050" stroke-width="1.62" stroke-dasharray="1.4 1.1" stroke-dashoffset="9.6"/>
<path d="M444.1 371.9 444.95 370.47 445.8 367.7" fill="none" stroke="#00B050" stroke-width="1.62" stroke-dasharray="1.4 1.1" stroke-dashoffset="10.799999999999999"/>
<path d="M447.5 358.3 448.35 356.65 449.2 353.78 449.85 353.09 450.5 350.24 451.15 350.04 451.8 347.11 452.45 349.48 453.1 349.52 453.75 351.17 454.4 350.97 455.25 350.49 456.1 347.62 456.78 347.88 457.46 346.01 458.14 346.28 458.82 344.07 459.5 344.2 460.12 342.84 460.75 343.53 461.38 342.03 462 342.1" fill="none" stroke="#00B050" stroke-width="1.62" stroke-dasharray="1.4 1.1" stroke-dashoffset="12.0"/>
<path d="M464.6 329.3 465.25 328.67 465.9 326.75 466.55 326.59 467.2 324.14 467.82 324.8 468.45 323.26 469.07 323.8 469.7 322.05 470.38 323.92 471.06 322.98 471.74 324.85 472.42 324.92 473.1 326.41 473.8 325.99 474.5 328.4 475.2 327.99 475.9 329.65 476.6 329.42 477.28 331.59 477.96 331.02 478.64 333.02 479.32 332.65 480 335.21 480.62 335.58 481.25 337.74 481.88 338.61 482.5 340.84 483.15 341.53 483.8 343.82 484.45 344.14 485.1 346.3" fill="none" stroke="#00B050" stroke-width="1.62" stroke-dasharray="1.4 1.1" stroke-dashoffset="13.2"/>
<path d="M508.5 445.7 509.15 447.78 509.8 448.5 510.45 451.08 511.1 451.31 511.75 453.62 512.4 453.94 513.05 455.97 513.7 456.11 514.33 458.92 514.95 458.94 515.58 460.95 516.2 461.9" fill="none" stroke="#00B050" stroke-width="1.62" stroke-dasharray="1.4 1.1" stroke-dashoffset="14.399999999999999"/>
<path d="M517.9 468.8 518.55 469.95 519.2 469.25 519.85 471.25 520.5 470.69 521.18 472.04 521.86 471.9 522.54 473.72 523.22 472.92 523.9 474.77 524.58 473.81 525.26 476.12 525.94 475.36 526.62 477.05 527.3 477.06 527.98 478.41 528.66 478.1 529.34 479.64 530.02 479.45 530.7 481.12 531.38 480.64 532.06 482.23 532.74 481.98 533.42 483.25 534.1 482.58 534.78 483.84 535.46 483.51 536.14 484.9 536.82 484.47 537.5 485.46 538.2 485.05 538.9 486.73 539.6 485.93 540.3 487.87 541 486.74 541.68 488.81 542.36 487.81 543.04 489.61 543.72 489.31 544.4 490.61 545.02 490.2 545.65 491.19 546.27 490.64 546.9 492.56 547.55 490.76 548.2 491.79 548.85 490.9 549.5 491.31 550.12 489.34 550.75 489.78 551.38 487.9 552 487.7 552.65 486.23 553.3 486.09 553.95 484.41 554.6 484.69 555.25 483.16 555.9 483.65 556.55 481.55 557.2 481.6" fill="none" stroke="#00B050" stroke-width="1.62" stroke-dasharray="1.4 1.1" stroke-dashoffset="15.6"/>
<path d="M579.6 377.1 580.45 376.23 581.3 373.04 581.95 373.66 582.6 372.25 583.25 372.73 583.9 371.53 584.55 371.03 585.2 369.36 585.85 369.16 586.5 367.03 587.12 366.96 587.75 364.86 588.38 365.12 589 363.18 589.65 362.62 590.3 360.86 590.95 361 591.6 358.79 592.23 358.76 592.85 356.31 593.48 356.21 594.1 354 594.75 354.34 595.4 352.55 596.05 352.82 596.7 350.8 597.33 350.94 597.95 349.03 598.58 349.12 599.2 347.71 599.9 347.7 600.6 346.16 601.3 346.47 602 344.74 602.7 345.37 603.38 343.74 604.06 343.62 604.74 342.34 605.42 342.11 606.1 340.47 606.73 341.13 607.35 339.42 607.98 339.54 608.6 338 609.28 339.89 609.96 338.55 610.64 340.47 611.32 339.18 612 341.08 612.65 340.85 613.3 342.77 613.95 342.54 614.6 344.19 615.28 344.05 615.96 345.99 616.64 345.34 617.32 346.77 618 346.51 618.65 348.15 619.3 348.13 619.95 349.84 620.6 349.8" fill="none" stroke="#00B050" stroke-width="1.62" stroke-dasharray="1.4 1.1" stroke-dashoffset="16.8"/>
<path d="M650.3 451.7 651 452.71 651.7 452.2 652.4 454.33 653.1 453.89 653.8 455.78 654.48 455.5 655.16 457.52 655.84 457.68 656.52 459.55 657.2 460.2" fill="none" stroke="#00B050" stroke-width="1.62" stroke-dasharray="1.4 1.1" stroke-dashoffset="18.0"/>
<path d="M662.3 480.7 663.15 483.68 664 484.16 664.68 485.84 665.36 485.79 666.04 487.02 666.72 486.4 667.4 488.13 668.05 487.75 668.7 489.4 669.35 488.86 670 490.43 670.62 490.6 671.25 492.5 671.88 491.89 672.5 493.9 673.15 491.98 673.8 491.72 674.45 489.17 675.1 488.66 675.78 487.55 676.46 488.01 677.14 486.84 677.82 487.37 678.5 486.03 679.15 486.99 679.8 485.61 680.45 486.41 681.1 485.8" fill="none" stroke="#00B050" stroke-width="1.62" stroke-dasharray="1.4 1.1" stroke-dashoffset="19.2"/>
<rect x="233" y="313.2" width="61.8" height="19.2" fill="#fff" stroke="#3a3a3a" stroke-width="1.2"/>
<path d="M235.4 322.8h24" stroke="#00B050" stroke-width="1.8" stroke-dasharray="1.4 1.1"/>
<text x="262" y="325.2" font-size="11" font-style="italic" fill="#000" style="stroke:#000">e</text>
<text x="268.6" y="330.2" font-size="8.5" fill="#000" style="stroke:#000">1RSM</text>
<rect x="613.1" y="314.3" width="61.8" height="19.2" fill="#fff" stroke="#3a3a3a" stroke-width="1.2"/>
<path d="M615.5 323.8h24" stroke="#00B050" stroke-width="1.8" stroke-dasharray="1.4 1.1"/>
<text x="642" y="326.2" font-size="11" font-style="italic" fill="#000" style="stroke:#000">e</text>
<text x="648.5" y="331.2" font-size="8.5" fill="#000" style="stroke:#000">2RSM</text>
<text x="167.6" y="277.3" text-anchor="middle" font-family="Liberation Serif, serif" font-size="24.6" fill="#000" style="stroke:none">(a)</text>
<text x="538.3" y="278.0" text-anchor="middle" font-family="Liberation Serif, serif" font-size="24.6" fill="#000" style="stroke:none">(b)</text>
<text x="167.6" y="580.4" text-anchor="middle" font-family="Liberation Serif, serif" font-size="24.6" fill="#000" style="stroke:none">(c)</text>
<text x="538.3" y="580.7" text-anchor="middle" font-family="Liberation Serif, serif" font-size="24.6" fill="#000" style="stroke:none">(d)</text>
</svg>
</body></html>
